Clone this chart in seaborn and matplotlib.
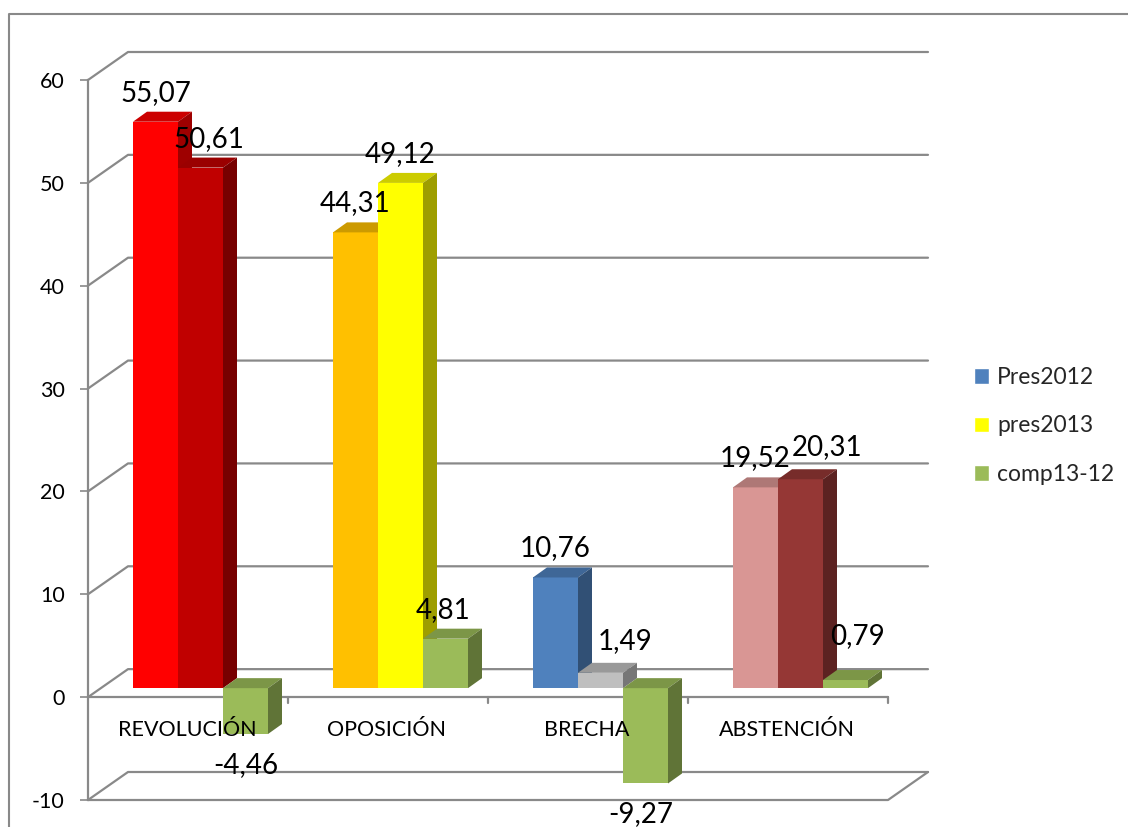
import matplotlib
matplotlib.use("Agg")
import numpy as np
import pandas as pd
import matplotlib.pyplot as plt
from matplotlib.patches import Polygon
from matplotlib.lines import Line2D
from matplotlib.colors import to_rgb
import seaborn as sns

categories = ["REVOLUCIÓN", "OPOSICIÓN", "BRECHA", "ABSTENCIÓN"]
series = ["Pres2012", "pres2013", "comp13-12"]
pres2012 = [55.07, 44.31, 10.76, 19.52]
pres2013 = [50.61, 49.12, 1.49, 20.31]
comp13_12 = [-4.46, 4.81, -9.27, 0.79]
yticks = [-10, 0, 10, 20, 30, 40, 50, 60]

series_colors = ["#4F81BD", "#FFFF00", "#9BBB59"]
# every bar has its own colour (excel "vary colours by point")
point_colors = [
    ["#FF0000", "#C00000", "#9BBB59"],
    ["#FFC000", "#FFFF00", "#9BBB59"],
    ["#4F81BD", "#BFBFBF", "#9BBB59"],
    ["#D99694", "#953735", "#9BBB59"],
]
# label nudges in pixels (excel moved some labels to avoid overlaps)
label_nudge = [
    [(0, 0), (8, 0), (0, 0)],
    [(0, 0), (0, 0), (-2, 0)],
    [(0, 0), (25, 3), (-5, 0)],
    [(0, 0), (27, 3), (12, 15)],
]

values = [pres2012, pres2013, comp13_12]
df = pd.DataFrame({
    "cat": categories * 3,
    "serie": [s for s in series for _ in categories],
    "valor": pres2012 + pres2013 + comp13_12,
})

sns.set_theme(style="white")
plt.rcParams["font.family"] = ["Lato", "DejaVu Sans"]
plt.rcParams["axes.unicode_minus"] = False

W, H = 1128, 827
fig = plt.figure(figsize=(W / 100, H / 100), dpi=100)
fig.patch.set_facecolor("white")
ax = fig.add_axes([88 / W, 1 - 800 / H, 800 / W, 720 / H])

sns.barplot(data=df, x="cat", y="valor", hue="serie", order=categories,
            hue_order=series, palette=series_colors, width=0.675,
            saturation=1, errorbar=None, ax=ax)
ax.set_xlim(-0.5, 3.5)
ax.set_ylim(-10, 60)

px_x = 800 / 4      # pixels per category
px_y = 720 / 70     # pixels per unit
grid = "#898989"
WX, WY = 40 / px_x, 28 / px_y     # depth of the back wall
BX, BY = 12.5 / px_x, 9 / px_y    # bars stand a bit behind the front plane
DX, DY = 14 / px_x, 10 / px_y     # depth of each bar

# 3d-ish walls
for v in yticks:
    ax.plot([-0.5, -0.5 + WX, 3.5 + WX], [v, v + WY, v + WY], color=grid,
            lw=1.6, zorder=1, clip_on=False)
ax.plot([-0.5, 3.5], [0, 0], color=grid, lw=1.6, zorder=1, clip_on=False)
ax.plot([-0.5, 3.5, 3.5 + WX], [-10, -10, -10 + WY], color=grid, lw=1.6,
        zorder=1, clip_on=False)
for x in [0.5, 1.5, 2.5, 3.5]:
    ax.plot([x, x], [0, -6 / px_y], color=grid, lw=1.6, zorder=1, clip_on=False)


def shade(c, f):
    r, g, b = to_rgb(c)
    return (r * f, g * f, b * f)


def fmt(v):
    return f"{v:.2f}".replace(".", ",")


for k, cont in enumerate(ax.containers):
    for bar in cont:
        w = bar.get_width()
        h = bar.get_height()
        i = int(round(bar.get_x() + w / 2))
        c = point_colors[i][k]
        x0 = bar.get_x() + BX
        x1 = x0 + w
        y0 = BY + min(0, h)
        y1 = BY + max(0, h)
        bar.set_x(x0)
        bar.set_y(BY)
        bar.set_facecolor(c)
        bar.set_edgecolor("none")
        bar.set_zorder(3 + k)
        top = [(x0, y1), (x0 + DX, y1 + DY), (x1 + DX, y1 + DY), (x1, y1)]
        side = [(x1, y0), (x1 + DX, y0 + DY), (x1 + DX, y1 + DY), (x1, y1)]
        ax.add_patch(Polygon(top, closed=True, fc=shade(c, 0.8), ec="none", zorder=3 + k))
        ax.add_patch(Polygon(side, closed=True, fc=shade(c, 0.62), ec="none", zorder=3 + k))

        v = values[k][i]
        nx, ny = label_nudge[i][k]
        cx = x0 + w / 2
        if v >= 0:
            ax.annotate(fmt(v), (cx, y1 + DY), xytext=(nx, 19 + ny),
                        textcoords="offset pixels", ha="center", va="center",
                        fontsize=20, color="black", zorder=10, annotation_clip=False)
        else:
            ax.annotate(fmt(v), (cx, y0), xytext=(nx, -31 + ny),
                        textcoords="offset pixels", ha="center", va="center",
                        fontsize=20, color="black", zorder=10, annotation_clip=False)

for i, cat in enumerate(categories):
    ax.annotate(cat, (i, 0), xytext=(-1, -33), textcoords="offset pixels",
                ha="center", va="center", fontsize=15.5, color="black",
                zorder=10, annotation_clip=False)

ax.set_xlabel("")
ax.set_ylabel("")
ax.set_yticks(yticks)
ax.set_yticklabels([str(v) for v in yticks])
ax.tick_params(axis="x", bottom=False, labelbottom=False)
ax.tick_params(axis="y", left=True, direction="out", length=5.8, width=1.2,
               color=grid, pad=11, labelsize=15.5, labelcolor="black")
for s in ["top", "right", "bottom"]:
    ax.spines[s].set_visible(False)
ax.spines["left"].set_color(grid)
ax.spines["left"].set_linewidth(1.6)
ax.patch.set_alpha(0)

sns.move_legend(ax, "upper left", bbox_to_anchor=(974 / W, 1 - 367 / H),
                bbox_transform=fig.transFigure, frameon=False, title=None,
                fontsize=16.5, handlelength=0.65, handleheight=0.65,
                handletextpad=0.35, labelspacing=1.2, borderpad=0,
                borderaxespad=0)

# border of the chart area
fig.add_artist(Line2D([9 / W, 9 / W, 1], [0, 1 - 14 / H, 1 - 14 / H],
                      transform=fig.transFigure, color=grid, lw=1.5))

fig.savefig("out.png", dpi=100)
